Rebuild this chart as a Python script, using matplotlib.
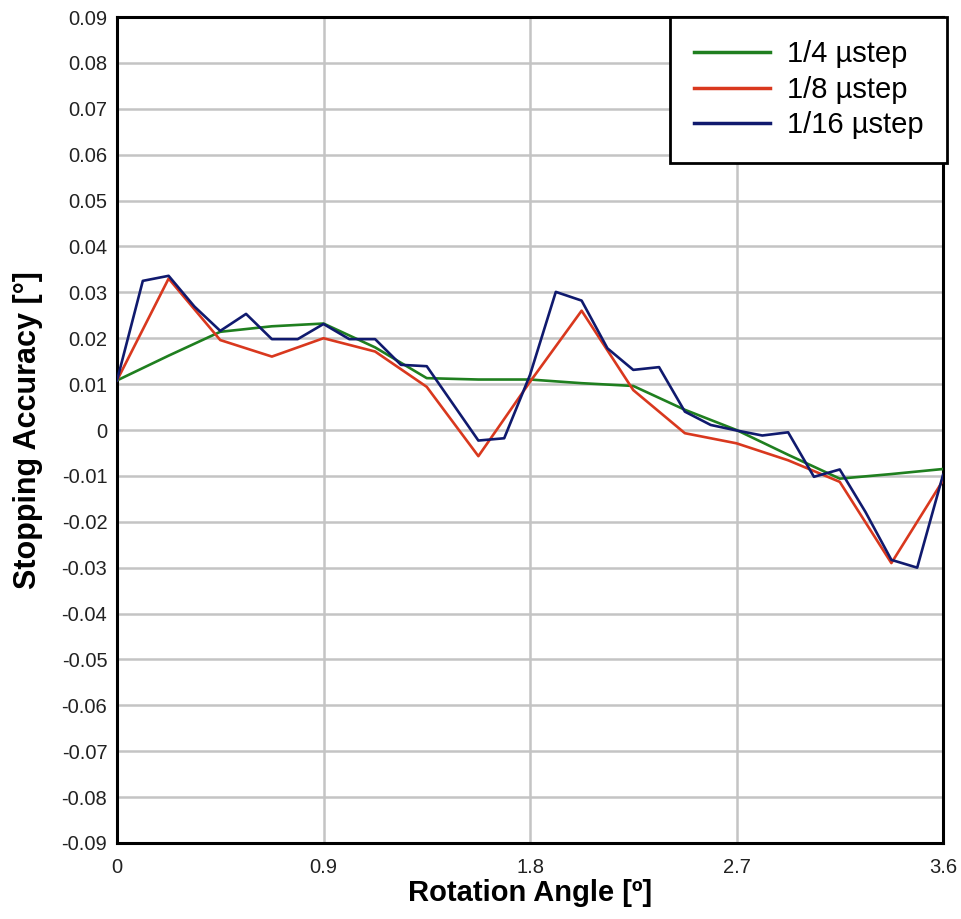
import matplotlib.pyplot as plt

plt.rcParams['font.family'] = ['Liberation Sans', 'DejaVu Sans']

# Data
x_q4 = [0, 0.225, 0.45, 0.675, 0.9, 1.125, 1.35, 1.575, 1.8, 2.025, 2.25,
        2.475, 2.7, 2.925, 3.15, 3.375, 3.6]
y_q4 = [0.0108, 0.0162, 0.0214, 0.0226, 0.0232, 0.0180, 0.0113, 0.0110, 0.0110,
        0.0102, 0.0096, 0.0044, 0.0000, -0.0054, -0.0106, -0.0096, -0.0085]

x_q8 = [0, 0.225, 0.45, 0.675, 0.9, 1.125, 1.35, 1.575, 1.8, 2.025, 2.25,
        2.475, 2.7, 2.925, 3.15, 3.375, 3.6]
y_q8 = [0.0108, 0.0330, 0.0196, 0.0160, 0.0200, 0.0171, 0.0094, -0.0057, 0.0105,
        0.0260, 0.0087, -0.0007, -0.0029, -0.0066, -0.0113, -0.0290, -0.0110]

x_q16 = [i * 0.1125 for i in range(33)]
y_q16 = [0.0108, 0.0325, 0.0336, 0.0269, 0.0216, 0.0253, 0.0198, 0.0198, 0.0231,
         0.0198, 0.0198, 0.0142, 0.0139, 0.0058, -0.0023, -0.0018, 0.0120,
         0.0301, 0.0282, 0.0178, 0.0131, 0.0137, 0.0040, 0.0011, -0.0001,
         -0.0012, -0.0005, -0.0102, -0.0086, -0.0179, -0.0283, -0.0300, -0.0098]

x_ticks = [0, 0.9, 1.8, 2.7, 3.6]
x_tick_labels = ['0', '0.9', '1.8', '2.7', '3.6']
y_ticks = [round(-0.09 + 0.01 * i, 2) for i in range(19)]

fig = plt.figure(figsize=(9.61, 9.19), dpi=100, facecolor='white')
ax = fig.add_axes([117 / 961, 1 - 843 / 919, 826 / 961, 826 / 919])

ax.plot(x_q4, y_q4, color='#1f7f1f', lw=1.9, label='1/4 µstep', zorder=3)
ax.plot(x_q8, y_q8, color='#d9381e', lw=1.9, label='1/8 µstep', zorder=4)
ax.plot(x_q16, y_q16, color='#101a6e', lw=1.9, label='1/16 µstep', zorder=5)

ax.set_xlim(0, 3.6)
ax.set_ylim(-0.09, 0.09)
ax.set_xticks(x_ticks)
ax.set_xticklabels(x_tick_labels)
ax.set_yticks(y_ticks)
ax.set_yticklabels(['0' if v == 0 else f'{v:.2f}' for v in y_ticks])
ax.tick_params(length=0, labelsize=14.5, colors='#222222', pad=7)
ax.tick_params(axis='x', pad=11)

ax.grid(True, color='#c4c4c4', lw=1.8, zorder=0)
ax.set_axisbelow(True)
for s in ax.spines.values():
    s.set_linewidth(2.2)
    s.set_color('black')

ax.set_xlabel('Rotation Angle [º]', fontsize=21, fontweight='bold', labelpad=1)
ax.set_ylabel('Stopping Accuracy [°]', fontsize=22, fontweight='bold', labelpad=13)

leg = ax.legend(loc='upper right', bbox_to_anchor=(947 / 961, 1 - 17 / 919),
                bbox_transform=fig.transFigure, fontsize=21, frameon=True,
                fancybox=False, edgecolor='black', framealpha=1,
                borderaxespad=0, handlelength=2.6, handletextpad=0.6,
                labelspacing=0.26, borderpad=0.8)
leg.get_frame().set_linewidth(2.0)
for line in leg.get_lines():
    line.set_linewidth(2.5)

fig.savefig('out.png', dpi=100, facecolor='white')
